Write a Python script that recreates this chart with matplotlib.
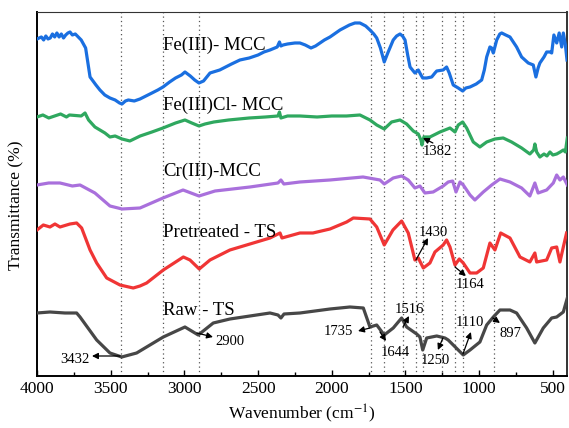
import matplotlib
matplotlib.use("Agg")
import matplotlib.pyplot as plt
from matplotlib.ticker import MultipleLocator

plt.rcParams['font.family'] = ['Liberation Serif', 'DejaVu Serif']
plt.rcParams['mathtext.fontset'] = 'stix'

# --- spectra (wavenumber, relative transmittance, arbitrary offset units) ---
fe_wn = [4000, 3970, 3955, 3940, 3925, 3910, 3895, 3880, 3865, 3850, 3835, 3820, 3805, 3790,
         3776, 3760, 3740, 3700, 3670, 3640,
         3600, 3573, 3540, 3505, 3470, 3440, 3423, 3400, 3380, 3340, 3301, 3260, 3220, 3180,
         3145, 3100, 3060, 3020, 2996, 2960, 2930, 2901, 2870, 2826, 2760, 2720, 2680, 2623,
         2560, 2500, 2460, 2419, 2370, 2355, 2345, 2330, 2300, 2250, 2216, 2180, 2141, 2110,
         2080, 2050, 2012, 1944, 1880, 1843, 1809, 1770, 1741, 1715, 1695, 1670, 1644, 1620,
         1583, 1560, 1537, 1520, 1503, 1485, 1469, 1436, 1413, 1395, 1383, 1356, 1322, 1300,
         1288, 1244, 1221, 1203, 1176, 1142, 1112, 1090, 1062, 1020, 983, 965, 949, 927, 915,
         904, 881, 860, 847, 820, 791, 746, 712, 690, 667, 633, 615, 600, 588, 560, 542, 520,
         508, 493, 474, 457, 440, 429, 415, 404]
fe_t = [337, 339, 336, 340, 337, 338, 342, 339, 343, 339, 342, 338, 341, 343,
        344, 341, 342, 336, 328, 299,
        291, 286, 281, 278, 276, 273, 272, 275, 276, 275, 277, 280, 283, 286,
        289, 294, 298, 301, 304, 300, 296, 293, 295, 303, 306, 309, 312, 316,
        318, 321, 324, 326, 329, 334, 330, 331, 332, 333, 333, 331, 328, 330,
        333, 336, 339, 346, 351, 353, 353, 350, 346, 342, 338, 328, 314, 323,
        336, 340, 342, 340, 336, 321, 309, 303, 306, 301, 298, 298, 299, 303,
        305, 306, 309, 303, 291, 288, 285, 288, 289, 292, 296, 306, 319, 329, 328,
        323, 336, 342, 343, 341, 339, 329, 319, 316, 313, 311, 299, 308, 313, 319, 324, 324,
        323, 341, 333, 343, 329, 343, 331, 316]

fecl_wn = [4000, 3960, 3920, 3880, 3840, 3800, 3780, 3700, 3674, 3650, 3607, 3539, 3505, 3470,
           3423, 3370, 3300, 3220, 3145, 3060, 2996, 2950, 2901, 2860, 2800, 2700, 2560, 2450,
           2365, 2355, 2345, 2300, 2216, 2100, 2000, 1900, 1809, 1741, 1695, 1644, 1594, 1537,
           1492, 1447, 1413, 1395, 1388, 1375, 1334, 1266, 1198, 1164, 1142, 1112, 1085, 1040,
           995, 949, 893, 837, 780, 712, 656, 630, 622, 610, 588, 560, 540, 520, 500, 474,
           450, 429, 415, 402]
fecl_t = [259, 261, 258, 260, 262, 259, 261, 260, 263, 256, 249, 243, 239, 240,
          237, 235, 240, 244, 248, 253, 256, 253, 250, 252, 254, 256, 258, 259,
          260, 264, 258, 260, 260, 259, 260, 260, 261, 256, 251, 247, 254, 256,
          252, 245, 242, 236, 231, 239, 239, 244, 248, 244, 251, 254, 248, 234,
          229, 234, 237, 238, 234, 228, 222, 226, 232, 224, 219, 222, 220, 224, 221, 222,
          224, 226, 224, 238]

cr_wn = [4000, 3920, 3844, 3760, 3708, 3607, 3505, 3423, 3301, 3145, 3009, 2901, 2792, 2555,
         2365, 2345, 2325, 2216, 2012, 1788, 1673, 1644, 1583, 1526, 1481, 1436, 1402, 1368,
         1312, 1244, 1210, 1180, 1157, 1130, 1108, 1062, 1029, 972, 915, 859, 791, 712, 656,
         622, 600, 542, 497, 474, 452, 429, 402]
cr_t = [191, 193, 193, 190, 191, 183, 170, 167, 168, 178, 186, 180, 185, 189,
        193, 196, 192, 194, 196, 199, 196, 192, 198, 200, 196, 188, 190, 183,
        184, 190, 194, 195, 184, 194, 191, 181, 176, 184, 191, 197, 194, 188, 180,
        193, 183, 186, 193, 201, 196, 199, 191]

pre_wn = [4000, 3957, 3912, 3878, 3844, 3776, 3731, 3697, 3640, 3595, 3527, 3437, 3347, 3301,
          3256, 3143, 3007, 2962, 2899, 2826, 2691, 2419, 2351, 2338, 2216, 2128, 2012, 1899,
          1854, 1741, 1695, 1644, 1585, 1526, 1481, 1436, 1413, 1379, 1334, 1300, 1244, 1221,
          1198, 1164, 1135, 1108, 1062, 1017, 972, 927, 893, 854, 791, 723, 656, 622, 610,
          542, 508, 474, 452, 429, 407]
pre_t = [146, 151, 149, 152, 149, 152, 153, 148, 126, 113, 98, 91, 88, 90,
         93, 106, 119, 116, 107, 116, 126, 138, 143, 138, 143, 143, 147, 154,
         158, 157, 149, 131, 146, 155, 143, 116, 118, 108, 113, 124, 131, 136,
         129, 111, 117, 113, 103, 103, 108, 133, 126, 143, 138, 119, 114, 123, 114,
         116, 128, 129, 114, 129, 143]

raw_wn = [4000, 3912, 3810, 3731, 3708, 3595, 3505, 3425, 3324, 3143, 2996, 2906, 2804, 2691,
          2419, 2365, 2345, 2324, 2216, 2012, 1877, 1786, 1741, 1695, 1644, 1583, 1526, 1492,
          1424, 1402, 1383, 1356, 1288, 1232, 1210, 1108, 1062, 995, 949, 904, 859, 791, 746,
          678, 622, 565, 508, 474, 429, 402]
raw_t = [63, 64, 63, 63, 59, 36, 23, 19, 23, 39, 49, 41, 53, 57,
         63, 61, 58, 62, 63, 67, 69, 68, 49, 51, 41, 48, 58, 49,
         42, 39, 26, 38, 40, 38, 36, 21, 26, 34, 51, 59, 66, 66, 63,
         48, 33, 48, 58, 59, 64, 78]

peak_lines = [3432, 3145, 2900, 1735, 1644, 1516, 1430, 1382, 1250, 1164, 1110, 897]

series = [
    (fe_wn, fe_t, "#1a6fe0", "Fe(III)- MCC", 331),
    (fecl_wn, fecl_t, "#2fa85f", "Fe(III)Cl- MCC", 271),
    (cr_wn, cr_t, "#a970dc", "Cr(III)-MCC", 205),
    (pre_wn, pre_t, "#f03535", "Pretreated - TS", 143),
    (raw_wn, raw_t, "#474747", "Raw - TS", 65),
]

# (label, label position, arrow tail, arrow head)
peak_notes = [
    ("3432", (3742, 16), (3437, 20), (3627, 20)),
    ("2900", (2691, 34), (2915, 43), (2806, 39)),
    ("1735", (1958, 44), (1741, 48), (1822, 45)),
    ("1644", (1571, 23), (1673, 44), (1632, 35)),
    ("1516", (1470, 66), (1517, 49), (1476, 60)),
    ("1250", (1300, 15), (1246, 38), (1280, 26)),
    ("1110", (1062, 53), (1110, 22), (1056, 44)),
    ("897", (791, 42), (907, 58), (859, 53)),
    ("1430", (1314, 143), (1429, 116), (1347, 138)),
    ("1164", (1062, 91), (1164, 109), (1090, 100)),
    ("1382", (1286, 224), (1314, 233), (1381, 238)),
]

fig = plt.figure(figsize=(5.69, 4.28), dpi=100)
ax = fig.add_axes([0.065, 0.1215, 0.9315, 0.8505])

for wn in peak_lines:
    ax.axvline(wn, color="#555555", lw=0.9, ls=(0, (1, 2.5)), zorder=1)

for wn, t, c, name, ly in series:
    ax.plot(wn, t, color=c, lw=2.3, zorder=3)
    ax.text(3145, ly, name, fontsize=13.5, va="center", ha="left", zorder=4)

for lab, tpos, tail, head in peak_notes:
    ax.text(tpos[0], tpos[1], lab, fontsize=10.5, ha="center", va="center", zorder=5)
    ax.annotate("", xy=head, xytext=tail,
                arrowprops=dict(arrowstyle="-|>", color="black", lw=0.9,
                                mutation_scale=9, shrinkA=0, shrinkB=0),
                zorder=5)

ax.set_xlim(4000, 404)
ax.set_ylim(0, 364)
ax.set_yticks([])
ax.xaxis.set_major_locator(MultipleLocator(500))
ax.xaxis.set_minor_locator(MultipleLocator(250))
ax.tick_params(axis="x", which="both", direction="in", labelsize=12.5)
ax.tick_params(axis="x", which="major", length=4, width=1)
ax.tick_params(axis="x", which="minor", length=3, width=1)

for s in ["top", "right"]:
    ax.spines[s].set_color("#333333")
ax.spines["left"].set_linewidth(1.4)
ax.spines["bottom"].set_linewidth(1.4)
ax.spines["right"].set_linewidth(1.4)

ax.set_xlabel("Wavenumber (cm$^{-1}$)", fontsize=12.5, labelpad=4)
ax.set_ylabel("Transmittance (%)", fontsize=12.5)
ax.yaxis.set_label_coords(-0.024, 0.47)

fig.savefig("out.png", dpi=100)
